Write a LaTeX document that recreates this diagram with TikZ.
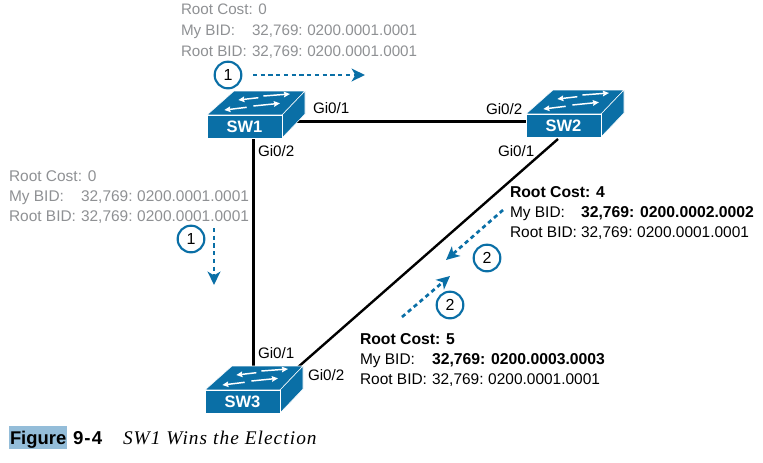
\documentclass[tikz,border=0pt]{standalone}
\usepackage{fontspec}
\setmainfont{Liberation Sans}
\newfontfamily\capserif[LetterSpace=5.5]{Liberation Serif}
\newfontfamily\capsans[LetterSpace=6]{Liberation Sans}
\usetikzlibrary{arrows.meta,calc}
\definecolor{ciscoblue}{HTML}{0A6FA6}
\definecolor{softgrey}{HTML}{8F9194}
\definecolor{capblue}{HTML}{94BDD9}
\newcommand{\vgap}{\hspace{.3em}}
\tikzset{
  x=.75pt,y=-.75pt,
  every node/.style={inner sep=0pt,outer sep=0pt},
  txt/.style={anchor=base west,font=\fontsize{11.6pt}{13pt}\selectfont,text=black},
  boldtxt/.style={txt,font=\fontsize{11.8pt}{13pt}\selectfont\bfseries},
  grey/.style={txt,text=softgrey},
  greytop/.style={grey,font=\fontsize{11.4pt}{13pt}\selectfont},
  iface/.style={txt,font=\fontsize{11.4pt}{13pt}\selectfont},
  link/.style={line width=2.3pt,black},
  diaglink/.style={line width=1.8pt,black},
  flow/.style={line width=2pt,ciscoblue,dash pattern=on 3.2pt off 2.6pt,-{Stealth[length=10pt,width=9.5pt,inset=2.8pt,sep=0pt]}},
  badge/.style={circle,draw=ciscoblue,line width=1.6pt,fill=white,minimum size=20pt,font=\fontsize{12pt}{13pt}\selectfont},
  swfront/.style={rectangle,fill=ciscoblue,draw=white,line width=.4pt,anchor=north west,minimum width=56.25pt,minimum height=17.25pt,text=white,font=\fontsize{12.4pt}{13pt}\selectfont\bfseries},
  swbody/.style={fill=ciscoblue,draw=white,line width=.4pt,line join=round},
  swarrow/.style={white,line width=1.1pt,-{Stealth[length=4.6pt,width=4.2pt,inset=.6pt]}},
  switchbox/.pic={
    \draw[swbody] (0,0) -- (27,-24) -- (98,-24) -- (75,0) -- cycle;
    \draw[swbody] (75,0) -- (98,-24) -- (98,-1) -- (75,23) -- cycle;
    \node[swfront] (front) at (0,0) {\tikzpictext};
    \draw[swarrow] (51.3,-17.3) -- (31.3,-15);
    \draw[swarrow] (56.3,-19) -- (83,-21);
    \draw[swarrow] (39.7,-7.7) -- (17.3,-5);
    \draw[swarrow] (46.3,-9) -- (73,-11.7);
  }
}
\begin{document}
\begin{tikzpicture}
\useasboundingbox[fill=white] (0,0) rectangle (763,462);

% anchor points hidden behind or touching the switches
\coordinate (sw1east) at (290,121.5);
\coordinate (sw2west) at (530,121.5);
\coordinate (sw1south) at (253.5,136);
\coordinate (sw3north) at (253.5,370);
\coordinate (sw2south) at (558,139);
\coordinate (sw3corner) at (297,368);

\draw[link] (sw1east) -- (sw2west);
\draw[link] (sw1south) -- (sw3north);
\draw[diaglink] (sw2south) -- (sw3corner);

\pic (sw1) at (207,115) [pic text=SW1] {switchbox};
\pic (sw2) at (526,114) [pic text=SW2] {switchbox};
\pic (sw3) at (205,390) [pic text=SW3] {switchbox};

% interface labels
\node[iface] (l1) at (313,113) {Gi0/1};
\node[iface] (l2) at (258,156) {Gi0/2};
\node[iface] (l3) at (486,114) {Gi0/2};
\node[iface] (l4) at (498,156) {Gi0/1};
\node[iface] (l5) at (258,358) {Gi0/1};
\node[iface] (l6) at (308,380) {Gi0/2};

% SW1 block
\node[greytop] (a1) at (181,14) {Root Cost: 0};
\node[greytop] (a2) at (181,35) {My BID:};
\node[greytop] (a3) at (252,35) {32,769:\vgap 0200.0001.0001};
\node[greytop] (a4) at (181,56) {Root BID:};
\node[greytop] (a5) at (252,56) {32,769:\vgap 0200.0001.0001};

% left block
\node[grey] (b1) at (9,181) {Root Cost: 0};
\node[grey] (b2) at (9,201) {My BID:};
\node[grey] (b3) at (81,201) {32,769:\vgap 0200.0001.0001};
\node[grey] (b4) at (9,221) {Root BID:};
\node[grey] (b5) at (81,221) {32,769:\vgap 0200.0001.0001};

% SW2 block
\node[boldtxt] (c1) at (510,197) {Root Cost: 4};
\node[txt] (c2) at (510,217) {My BID:};
\node[boldtxt] (c3) at (581,217) {32,769: 0200.0002.0002};
\node[txt] (c4) at (510,237) {Root BID:};
\node[txt] (c5) at (581,237) {32,769:\vgap 0200.0001.0001};

% SW3 block
\node[boldtxt] (d1) at (360,344) {Root Cost: 5};
\node[txt] (d2) at (360,364) {My BID:};
\node[boldtxt] (d3) at (432,364) {32,769: 0200.0003.0003};
\node[txt] (d4) at (360,384) {Root BID:};
\node[txt] (d5) at (432,384) {32,769:\vgap 0200.0001.0001};

% badges
\node[badge] (n1) at (228,75) {1};
\node[badge] (n2) at (191,239) {1};
\node[badge] (n3) at (487,258) {2};
\node[badge] (n4) at (450,305) {2};

% flow arrows
\coordinate (f1a) at (253,75);  \coordinate (f1b) at (365,75);
\coordinate (f2a) at (214,228); \coordinate (f2b) at (214,285);
\coordinate (f3a) at (503,210); \coordinate (f3b) at (446,260);
\coordinate (f4a) at (402,317); \coordinate (f4b) at (450,276);
\draw[flow] (f1a) -- (f1b);
\draw[flow] (f2a) -- (f2b);
\draw[flow] (f3a) -- (f3b);
\draw[flow] (f4a) -- (f4b);

% caption
\fill[capblue] (9,426) rectangle (67,449);
\node[txt,font=\fontsize{13.8pt}{15pt}\selectfont\bfseries] (g1) at (10,444) {Figure};
\node[txt,font=\fontsize{14pt}{15pt}\selectfont\capsans\bfseries] (g2) at (73,444) {9-4};
\node[txt,font=\fontsize{14.5pt}{15pt}\selectfont\capserif\itshape] (g3) at (123,444) {SW1 Wins the Election};
\end{tikzpicture}
\end{document}
